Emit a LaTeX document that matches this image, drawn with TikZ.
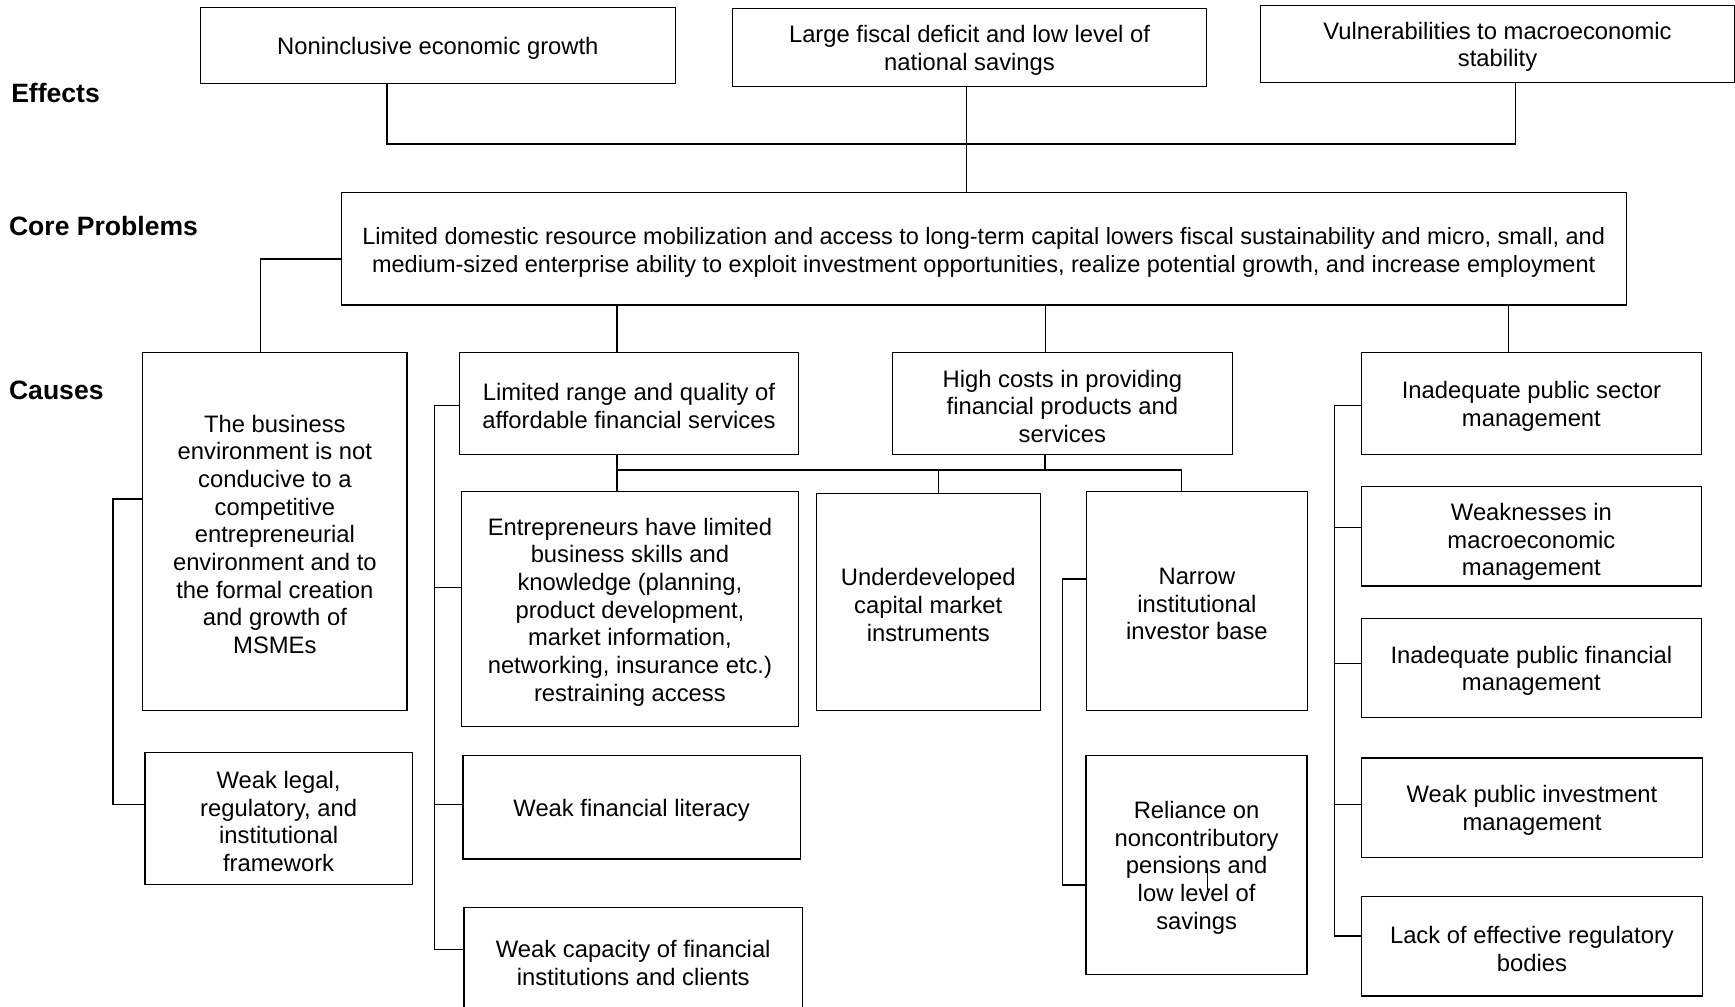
\documentclass[tikz,border=0pt]{standalone}
\usepackage{fontspec}
\setmainfont{Liberation Sans}
\begin{document}
\begin{tikzpicture}[x=1pt,y=-1pt,
  box/.style={draw, line width=1.1pt, inner sep=0pt},
  txt/.style={align=center, inner sep=0pt, yshift=-2.6pt, font=\fontsize{21.5}{25}\selectfont},
  lbl/.style={anchor=base west, inner sep=0pt, font=\fontsize{24}{28}\selectfont\bfseries},
  conn/.style={line width=1.3pt}]
\useasboundingbox (0,0) rectangle (1568,910);
\clip (0,0) rectangle (1568,910);

% row labels
\node[lbl] (lEff) at (10,92.4) {Effects};
\node[lbl] (lCore) at (8,212.4) {Core Problems};
\node[lbl] (lCau) at (8,361.4) {Causes};

% effects
\node[box, minimum width=429.4pt, minimum height=68.7pt, label={[txt]center:{Noninclusive economic growth}}] (E1) at (395.7,41) {};
\node[box, minimum width=428.4pt, minimum height=70.8pt, label={[txt]center:{Large fiscal deficit and low level of\\national savings}}] (E2) at (876.2,42.9) {};
\node[box, minimum width=428.2pt, minimum height=69.3pt, label={[txt]center:{Vulnerabilities to macroeconomic\\stability}}] (E3) at (1353.4,39.8) {};

% core
\node[box, minimum width=1161.3pt, minimum height=101.5pt, label={[txt, yshift=-0.8pt, font=\fontsize{21.25}{25}\selectfont]center:{Limited domestic resource mobilization and access to long-term capital lowers fiscal sustainability and micro, small, and\\medium-sized enterprise ability to exploit investment opportunities, realize potential growth, and increase employment}}] (core) at (889,224.8) {};

% causes column 1
\node[box, minimum width=238.7pt, minimum height=323.9pt, label={[txt]center:{The business\\environment is not\\conducive to a\\competitive\\entrepreneurial\\environment and to\\the formal creation\\and growth of\\MSMEs}}] (bus) at (248.4,480.4) {};
\node[box, minimum width=241.7pt, minimum height=119pt, label={[txt]center:{Weak legal,\\regulatory, and\\institutional\\framework}}] (wl) at (251.8,739.7) {};

% causes column 2
\node[box, minimum width=306.7pt, minimum height=92.2pt, label={[txt]center:{Limited range and quality of\\affordable financial services}}] (lim) at (568.4,364.5) {};
\node[box, minimum width=304.8pt, minimum height=212.4pt, label={[txt]center:{Entrepreneurs have limited\\business skills and\\knowledge (planning,\\product development,\\market information,\\networking, insurance etc.)\\restraining access}}] (ent) at (569.3,550.5) {};
\node[box, minimum width=304.9pt, minimum height=93.7pt, label={[txt]center:{Weak financial literacy}}] (wfl) at (570.8,729.5) {};
\node[box, minimum width=305.9pt, minimum height=94.7pt, label={[txt]center:{Weak capacity of financial\\institutions and clients}}] (wc) at (572.3,867.7) {};

% causes column 3
\node[box, minimum width=307.2pt, minimum height=92.2pt, label={[txt]center:{High costs in providing\\financial products and\\services}}] (high) at (960.1,364.5) {};
\node[box, minimum width=202.6pt, minimum height=196.4pt, label={[txt]center:{Underdeveloped\\capital market\\instruments}}] (und) at (838.9,544.1) {};
\node[box, minimum width=200pt, minimum height=198pt, label={[txt]center:{Narrow\\institutional\\investor base}}] (nar) at (1081.7,543.3) {};
\node[box, minimum width=199.7pt, minimum height=197.6pt, label={[txt]center:{Reliance on\\noncontributory\\pensions and\\low level of\\savings}}] (rel) at (1081.4,781.7) {};

% causes column 4
\node[box, minimum width=307.7pt, minimum height=92.2pt, label={[txt]center:{Inadequate public sector\\management}}] (psm) at (1384,364.5) {};
\node[box, minimum width=307.7pt, minimum height=89.8pt, label={[txt, yshift=-2.4pt]center:{Weaknesses in\\macroeconomic\\management}}] (wk) at (1384,484.7) {};
\node[box, minimum width=307.7pt, minimum height=89.8pt, label={[txt]center:{Inadequate public financial\\management}}] (ipfm) at (1384,603.7) {};
\node[box, minimum width=307.7pt, minimum height=90.1pt, label={[txt]center:{Weak public investment\\management}}] (wpim) at (1384.5,730) {};
\node[box, minimum width=307.7pt, minimum height=89.7pt, label={[txt]center:{Lack of effective regulatory\\bodies}}] (lack) at (1384.5,855.3) {};

% effects to core
\coordinate (j1) at (349.6,130);
\coordinate (j2) at (1369.8,130);
\draw[conn] (E1.south -| j1) -- (j1) -- (j2) -- (E3.south -| j2);
\coordinate (x2) at (873.5,130);
\draw[conn] (E2.south -| x2) -- (core.north -| x2);

% core to causes
\coordinate (cl) at (235.2,234);
\draw[conn] (core.west |- cl) -- (cl) -- (bus.north -| cl);
\coordinate (x3) at (557.5,300);
\draw[conn] (core.south -| x3) -- (lim.north -| x3);
\coordinate (x4) at (945,300);
\draw[conn] (core.south -| x4) -- (high.north -| x4);
\coordinate (x5) at (1363.2,300);
\draw[conn] (core.south -| x5) -- (psm.north -| x5);

% middle tree
\coordinate (h1) at (557.8,424.8);
\coordinate (h2) at (1067.9,424.8);
\draw[conn] (lim.south -| h1) -- (ent.north -| h1);
\draw[conn] (h1) -- (h2) -- (nar.north -| h2);
\coordinate (x6) at (944.5,424.8);
\draw[conn] (high.south -| x6) -- (x6);
\coordinate (x7) at (848,424.8);
\draw[conn] (x7) -- (und.north -| x7);

% bracket: business
\coordinate (b1t) at (102,451);
\coordinate (b1b) at (102,727);
\draw[conn] (bus.west |- b1t) -- (b1t) -- (b1b) -- (wl.west |- b1b);

% bracket: limited range
\coordinate (b2t) at (392.7,366.3);
\coordinate (b2b) at (392.7,858);
\coordinate (b2m1) at (392.7,530.8);
\coordinate (b2m2) at (392.7,726.9);
\draw[conn] (lim.west |- b2t) -- (b2t) -- (b2b) -- (wc.west |- b2b);
\draw[conn] (b2m1) -- (ent.west |- b2m1);
\draw[conn] (b2m2) -- (wfl.west |- b2m2);

% bracket: narrow
\coordinate (b3t) at (960.2,523.3);
\coordinate (b3b) at (960.2,799.8);
\draw[conn] (nar.west |- b3t) -- (b3t) -- (b3b) -- (rel.west |- b3b);

% bracket: public sector
\coordinate (b4t) at (1206.2,366.3);
\coordinate (b4b) at (1206.2,845.9);
\coordinate (b4m1) at (1206.2,476.9);
\coordinate (b4m2) at (1206.2,599.8);
\coordinate (b4m3) at (1206.2,726.9);
\draw[conn] (psm.west |- b4t) -- (b4t) -- (b4b) -- (lack.west |- b4b);
\draw[conn] (b4m1) -- (wk.west |- b4m1);
\draw[conn] (b4m2) -- (ipfm.west |- b4m2);
\draw[conn] (b4m3) -- (wpim.west |- b4m3);

% stray mark inside the pensions box
\draw[line width=0.9pt] ([xshift=9.5pt,yshift=-3pt]rel.center) -- ([xshift=9.5pt,yshift=-22.6pt]rel.center);
\end{tikzpicture}
\end{document}
